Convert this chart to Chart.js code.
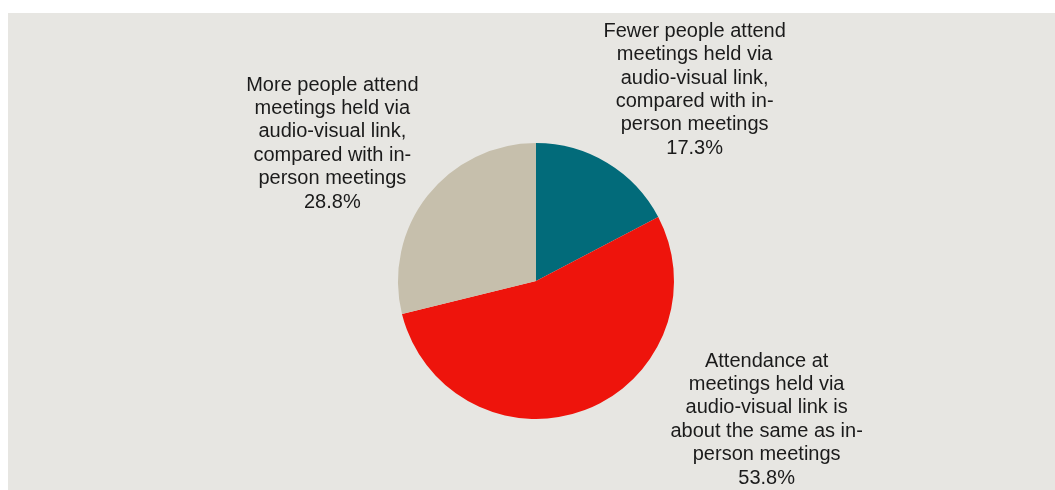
<!DOCTYPE html>
<html>
<head>
<meta charset="utf-8">
<script src="https://cdn.jsdelivr.net/npm/chart.js@4/dist/chart.umd.min.js"></script>
<style>
  html, body { margin: 0; padding: 0; background: #fff; }
  #caja {
    position: absolute; left: 8px; top: 13px;
    width: 1047px; height: 477px;
    background: #e7e6e2;
  }
</style>
</head>
<body>
<div id="caja"><canvas id="grafico"></canvas></div>
<script>
// categorias (con los saltos de linea del original)
const categorias = [
  ['Fewer people attend', 'meetings held via', 'audio-visual link,', 'compared with in-', 'person meetings'],
  ['Attendance at', 'meetings held via', 'audio-visual link is', 'about the same as in-', 'person meetings'],
  ['More people attend', 'meetings held via', 'audio-visual link,', 'compared with in-', 'person meetings']
];
const porcentajes = [17.3, 53.8, 28.8];
const colores = ['#026b7a', '#ee140c', '#c6bfac'];

// donde va cada etiqueta: angulo (grados) y distancia en radios desde el centro
const posEtiquetas = [
  { ang: -50.3, dist: 1.80 },
  { ang: 31.0, dist: 1.95 },
  { ang: -146.0, dist: 1.78 }
];

const FUENTE = '20px "Liberation Sans", Arial, sans-serif';
const ALTO_LINEA = 23.4;

const etiquetasPlugin = {
  id: 'etiquetas',
  afterDatasetsDraw(chart) {
    const ctx = chart.ctx;
    const meta = chart.getDatasetMeta(0);
    ctx.save();
    ctx.font = FUENTE;
    ctx.fillStyle = '#1b1b1b';
    ctx.textAlign = 'center';
    ctx.textBaseline = 'middle';
    meta.data.forEach((arco, i) => {
      const p = posEtiquetas[i];
      const a = p.ang * Math.PI / 180;
      const cx = arco.x + Math.cos(a) * arco.outerRadius * p.dist;
      const cy = arco.y + Math.sin(a) * arco.outerRadius * p.dist;
      const lineas = categorias[i].concat([porcentajes[i].toFixed(1) + '%']);
      const y0 = cy - (lineas.length - 1) * ALTO_LINEA / 2;
      lineas.forEach((l, j) => {
        ctx.fillText(l, cx, y0 + j * ALTO_LINEA);
      });
    });
    ctx.restore();
  }
};

const ctx = document.getElementById('grafico').getContext('2d');
const grafico = new Chart(ctx, {
  type: 'pie',
  data: {
    labels: categorias,
    datasets: [{
      data: porcentajes,
      backgroundColor: colores,
      borderWidth: 0
    }]
  },
  options: {
    responsive: true,
    maintainAspectRatio: false,
    animation: false,
    layout: {
      padding: { left: 390, right: 381, top: 130, bottom: 71 }
    },
    plugins: {
      legend: { display: false },
      tooltip: { enabled: false }
    }
  },
  plugins: [etiquetasPlugin]
});
</script>
</body>
</html>
